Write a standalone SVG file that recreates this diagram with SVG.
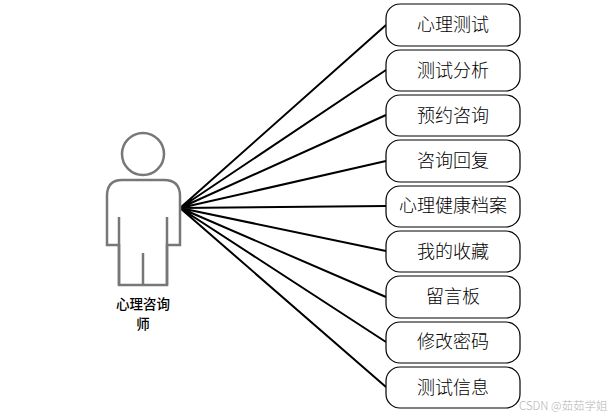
<svg xmlns="http://www.w3.org/2000/svg" width="614" height="417" viewBox="0 0 614 417">
<style>
.n{fill:#fff;stroke:#000;stroke-width:1.2}
.t{font-family:"Noto Sans CJK SC",sans-serif;font-size:18px;font-weight:300;text-anchor:middle;fill:#000}
.c{fill:none;stroke:#000;stroke-width:2}
.a{fill:#fff;stroke:#777;stroke-width:2.5}
.l{font-family:"Noto Sans CJK SC",sans-serif;font-size:13.5px;font-weight:500;text-anchor:middle;fill:#000}
</style>
<rect width="614" height="417" fill="#fff"/>
<g id="connectors">
<path class="c" d="M180 208L386 25M180 208L386 70M180 208L386 115M180 208L386 161M180 208L386 206M180 208L386 251M180 208L386 297M180 208L386 342M180 208L386 387"/>
</g>
<g id="actor">
<circle class="a" cx="143" cy="154" r="21"/>
<path class="a" d="M122 180H164Q180 180 180 196V245H167V285H119V245H107V196Q107 180 122 180Z"/>
<path class="a" fill="none" d="M119 217V285M167 217V285M143 253V285"/>
<text class="l" x="143" y="309">心理咨询</text>
<text class="l" x="143" y="329">师</text>
</g>
<g id="n1"><rect class="n" x="386" y="4" width="134" height="42" rx="14"/><text class="t" x="453" y="31">心理测试</text></g>
<g id="n2"><rect class="n" x="386" y="50" width="134" height="41" rx="14"/><text class="t" x="453" y="77">测试分析</text></g>
<g id="n3"><rect class="n" x="386" y="95" width="134" height="41" rx="14"/><text class="t" x="453" y="122">预约咨询</text></g>
<g id="n4"><rect class="n" x="386" y="140" width="134" height="42" rx="14"/><text class="t" x="453" y="167">咨询回复</text></g>
<g id="n5"><rect class="n" x="386" y="186" width="134" height="41" rx="14"/><text class="t" x="453" y="212">心理健康档案</text></g>
<g id="n6"><rect class="n" x="386" y="231" width="134" height="41" rx="14"/><text class="t" x="453" y="258">我的收藏</text></g>
<g id="n7"><rect class="n" x="386" y="276" width="134" height="42" rx="14"/><text class="t" x="453" y="303">留言板</text></g>
<g id="n8"><rect class="n" x="386" y="322" width="134" height="41" rx="14"/><text class="t" x="453" y="348">修改密码</text></g>
<g id="n9"><rect class="n" x="386" y="367" width="134" height="41" rx="14"/><text class="t" x="453" y="394">测试信息</text></g>
<text x="519" y="410" font-family="'Noto Sans CJK SC',sans-serif" font-size="11.5" font-weight="300" fill="#b5b5b5">CSDN @茹茹学姐</text>
</svg>
